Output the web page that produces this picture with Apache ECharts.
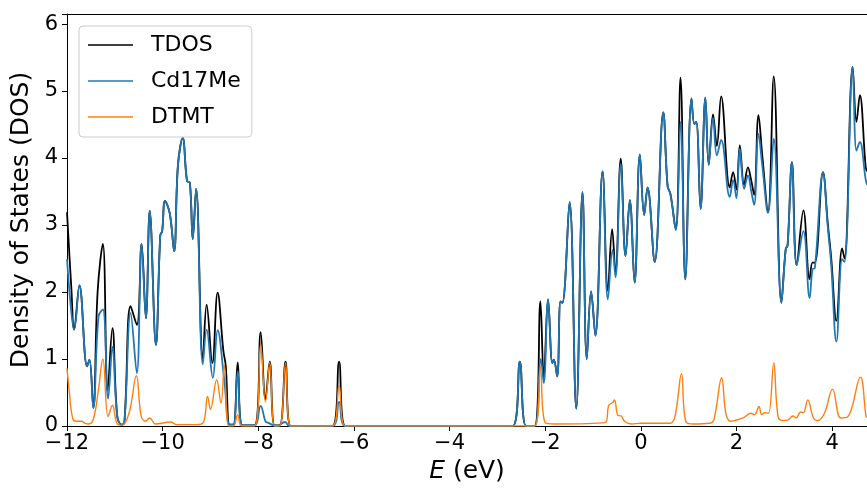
<!DOCTYPE html>
<html>
<head>
<meta charset="utf-8">
<script src="https://cdn.jsdelivr.net/npm/echarts@6/dist/echarts.min.js"></script>
<style>html,body{margin:0;padding:0;background:#fff}#c{width:867px;height:490px}</style>
</head>
<body>
<div id="c"></div>
<script>
var seriesNames = ['TDOS', 'Cd17Me', 'DTMT'];
var xTicks = [-12, -10, -8, -6, -4, -2, 0, 2, 4];
var yTicks = [0, 1, 2, 3, 4, 5, 6];

var tdosE = [-12.00,-11.91,-11.85,-11.74,-11.58,-11.53,-11.45,-11.36,-11.25,-11.15,-11.05,-10.95,-10.86,-10.80,-10.67,-10.54,-10.44,-10.35,-10.27,-10.14,-10.05,-10.01,-9.95,-9.85,-9.76,-9.68,-9.58,-9.49,-9.43,-9.37,-9.30,-9.16,-9.08,-8.96,-8.85,-8.73,-8.68,-8.60,-8.52,-8.43,-8.33,-8.08,-7.95,-7.85,-7.76,-7.66,-7.55,-7.43,-7.32,-6.45,-6.31,-6.18,-2.68,-2.53,-2.40,-2.22,-2.10,-2.03,-1.94,-1.85,-1.82,-1.75,-1.68,-1.64,-1.49,-1.35,-1.22,-1.13,-1.04,-0.95,-0.80,-0.69,-0.60,-0.53,-0.42,-0.32,-0.23,-0.13,-0.02,0.07,0.14,0.29,0.47,0.56,0.62,0.73,0.83,0.93,1.06,1.12,1.16,1.25,1.35,1.42,1.51,1.59,1.68,1.86,1.93,2.00,2.07,2.16,2.24,2.31,2.37,2.46,2.54,2.66,2.78,2.94,3.03,3.07,3.16,3.26,3.40,3.53,3.59,3.64,3.81,3.91,3.98,4.09,4.21,4.26,4.43,4.51,4.58,4.70,4.73];
var tdosV = [3.19,2.07,1.44,2.10,0.89,0.99,0.27,2.00,2.72,0.53,1.46,0.15,0.02,0.05,1.79,1.51,2.72,1.61,3.21,1.21,2.84,2.91,3.36,3.17,2.61,3.89,4.30,3.66,3.63,2.79,3.54,1.00,1.81,0.94,1.99,1.12,0.90,0.02,0.02,0.95,0.01,0.01,1.40,0.40,0.96,0.01,0.01,0.96,0.00,0.00,0.96,0.00,0.00,0.96,0.00,0.00,1.86,0.72,1.89,0.94,0.99,0.74,1.86,1.84,3.34,0.26,3.49,1.00,2.01,1.35,3.80,2.02,2.94,2.29,3.99,2.54,3.37,2.14,4.05,3.15,3.56,2.45,4.68,3.58,3.46,2.93,5.20,2.19,4.89,4.51,4.54,3.24,4.90,3.90,4.65,4.18,4.92,3.56,3.79,3.53,4.19,3.60,3.86,3.66,3.45,4.64,4.04,3.20,5.22,1.84,2.64,2.70,3.94,2.40,3.22,2.19,2.44,2.44,3.79,3.02,2.52,1.57,2.65,2.50,5.36,4.54,4.94,3.88,3.80];

var cdE = [-12.00,-11.91,-11.85,-11.74,-11.58,-11.53,-11.45,-11.34,-11.25,-11.14,-11.05,-10.95,-10.86,-10.80,-10.67,-10.54,-10.44,-10.35,-10.27,-10.14,-10.05,-10.01,-9.95,-9.85,-9.76,-9.68,-9.58,-9.49,-9.43,-9.37,-9.30,-9.16,-9.08,-8.95,-8.85,-8.71,-8.60,-8.52,-8.43,-8.33,-8.08,-7.95,-7.85,-7.80,-7.62,-7.44,-7.35,-6.45,-6.31,-6.18,-2.68,-2.53,-2.40,-2.22,-2.09,-2.03,-1.94,-1.85,-1.82,-1.75,-1.68,-1.64,-1.49,-1.35,-1.22,-1.13,-1.04,-0.95,-0.80,-0.69,-0.59,-0.53,-0.42,-0.32,-0.23,-0.13,-0.02,0.07,0.14,0.29,0.47,0.56,0.62,0.73,0.83,0.93,1.06,1.12,1.16,1.25,1.35,1.42,1.51,1.59,1.68,1.86,1.93,2.00,2.07,2.16,2.24,2.31,2.37,2.46,2.54,2.66,2.78,2.94,3.03,3.07,3.16,3.26,3.40,3.53,3.59,3.64,3.81,3.91,3.98,4.09,4.21,4.26,4.43,4.51,4.58,4.70,4.73];
var cdV = [2.49,1.70,1.44,2.10,0.89,0.99,0.27,1.64,1.74,0.41,1.18,0.15,0.02,0.05,1.69,0.79,2.72,1.61,3.21,1.21,2.84,2.91,3.36,3.17,2.61,3.89,4.30,3.66,3.63,2.79,3.54,0.92,1.44,0.72,1.43,0.68,0.02,0.02,0.82,0.01,0.01,0.30,0.07,0.05,0.00,0.06,0.00,0.00,0.36,0.00,0.00,0.96,0.00,0.00,1.00,0.64,1.89,0.94,0.99,0.74,1.86,1.84,3.34,0.26,3.49,1.00,2.01,1.35,3.80,1.89,2.63,2.22,3.91,2.54,3.37,2.14,4.05,3.15,3.56,2.45,4.68,3.58,3.46,2.93,4.54,2.19,4.89,4.51,4.54,3.24,4.90,3.90,4.60,4.04,4.27,3.42,3.67,3.40,4.14,3.54,3.74,3.50,3.30,4.36,3.89,3.18,4.29,1.84,2.64,2.70,3.94,2.40,2.91,1.91,2.34,2.36,3.78,2.97,2.42,1.26,2.49,2.45,5.36,4.11,4.24,3.69,3.60];

var dtmtE = [-12.00,-11.95,-11.88,-11.80,-11.70,-11.62,-11.55,-11.45,-11.35,-11.25,-11.14,-11.05,-10.95,-10.85,-10.70,-10.55,-10.45,-10.36,-10.27,-10.15,-9.83,-9.70,-9.30,-9.15,-9.06,-9.00,-8.87,-8.78,-8.71,-8.62,-8.52,-8.43,-8.35,-8.08,-7.95,-7.85,-7.76,-7.66,-7.55,-7.43,-7.32,-6.45,-6.31,-6.18,-2.22,-2.10,-2.00,-1.80,-0.75,-0.67,-0.59,-0.55,-0.48,-0.41,-0.34,-0.20,0.00,0.60,0.71,0.85,0.94,1.10,1.44,1.53,1.69,1.78,1.88,1.96,2.16,2.30,2.38,2.47,2.53,2.60,2.67,2.78,2.87,2.98,3.08,3.18,3.25,3.34,3.40,3.49,3.61,3.70,3.84,4.01,4.18,4.33,4.59,4.71,4.73];
var dtmtV = [0.86,0.50,0.11,0.07,0.07,0.04,0.03,0.10,0.50,1.00,0.14,0.31,0.03,0.01,0.20,0.75,0.15,0.07,0.12,0.03,0.06,0.02,0.02,0.05,0.44,0.25,0.69,0.34,0.91,0.00,0.00,0.17,0.00,0.00,1.22,0.36,0.95,0.00,0.00,0.94,0.00,0.00,0.61,0.00,0.00,0.89,0.05,0.03,0.05,0.31,0.35,0.39,0.16,0.15,0.07,0.03,0.04,0.04,0.13,0.78,0.07,0.03,0.04,0.10,0.72,0.18,0.07,0.08,0.13,0.19,0.17,0.29,0.17,0.20,0.19,0.94,0.14,0.08,0.09,0.15,0.12,0.21,0.20,0.39,0.12,0.08,0.19,0.55,0.12,0.14,0.73,0.14,0.13];

function pairs(e, v) { return e.map(function (x, i) { return [x, v[i]]; }); }
function fmt(v) { return v < 0 ? '\u2212' + Math.abs(v) : String(v); }

var FONT = 'DejaVu Sans';
var chart = echarts.init(document.getElementById('c'), null, { renderer: 'canvas' });
var lineCommon = { type: 'line', showSymbol: false, symbol: 'none', smooth: 0.4, animation: false, clip: true };

chart.setOption({
  animation: false,
  backgroundColor: '#ffffff',
  grid: { left: 67, right: 0, top: 14, bottom: 64, containLabel: false },
  legend: {
    data: seriesNames,
    orient: 'vertical',
    left: 79, top: 26,
    icon: 'rect',
    itemWidth: 45, itemHeight: 1.6,
    itemGap: 12,
    padding: [7, 11, 8, 9],
    backgroundColor: 'rgba(255,255,255,0.8)',
    borderColor: '#cccccc', borderWidth: 1, borderRadius: 4,
    textStyle: { fontFamily: FONT, fontSize: 22, lineHeight: 24, color: '#000', padding: [0, 0, 0, 13] }
  },
  xAxis: [{
    type: 'value', min: -12, max: 4.73, interval: 2,
    name: '{i|E} (eV)', nameLocation: 'middle', nameGap: 33,
    nameTextStyle: { fontFamily: FONT, fontSize: 25, color: '#000', rich: { i: { fontFamily: FONT, fontSize: 25, fontStyle: 'italic', color: '#000' } } },
    axisLine: { show: true, onZero: false, lineStyle: { color: '#000', width: 1 } },
    axisTick: { show: true, length: 5, lineStyle: { color: '#000', width: 1 } },
    axisLabel: { fontFamily: FONT, fontSize: 21, color: '#000', margin: 7, formatter: fmt, showMaxLabel: false },
    splitLine: { show: false }
  }, {
    type: 'value', position: 'top', min: -12, max: 4.73,
    axisLine: { show: true, onZero: false, lineStyle: { color: '#000', width: 1 } },
    axisTick: { show: false }, axisLabel: { show: false }, splitLine: { show: false }
  }],
  yAxis: {
    type: 'value', min: 0, max: 6.15, interval: 1, position: 'left',
    name: 'Density of States (DOS)', nameLocation: 'middle', nameGap: 33,
    nameTextStyle: { fontFamily: FONT, fontSize: 25, color: '#000' },
    axisLine: { show: true, onZero: false, lineStyle: { color: '#000', width: 1 } },
    axisTick: { show: true, length: 5, lineStyle: { color: '#000', width: 1 } },
    axisLabel: { fontFamily: FONT, fontSize: 21, color: '#000', margin: 9,
      formatter: function (v) { return yTicks.indexOf(v) >= 0 ? String(v) : ''; } },
    splitLine: { show: false }
  },
  series: [
    Object.assign({}, lineCommon, { name: seriesNames[0], color: '#000000', lineStyle: { color: '#000000', width: 1.8 }, data: pairs(tdosE, tdosV), z: 2 }),
    Object.assign({}, lineCommon, { name: seriesNames[1], color: '#1f77b4', lineStyle: { color: '#1f77b4', width: 1.8 }, data: pairs(cdE, cdV), z: 3 }),
    Object.assign({}, lineCommon, { name: seriesNames[2], color: '#ff7f0e', lineStyle: { color: '#ff7f0e', width: 1.4 }, data: pairs(dtmtE, dtmtV), z: 4 })
  ]
});
</script>
</body>
</html>
